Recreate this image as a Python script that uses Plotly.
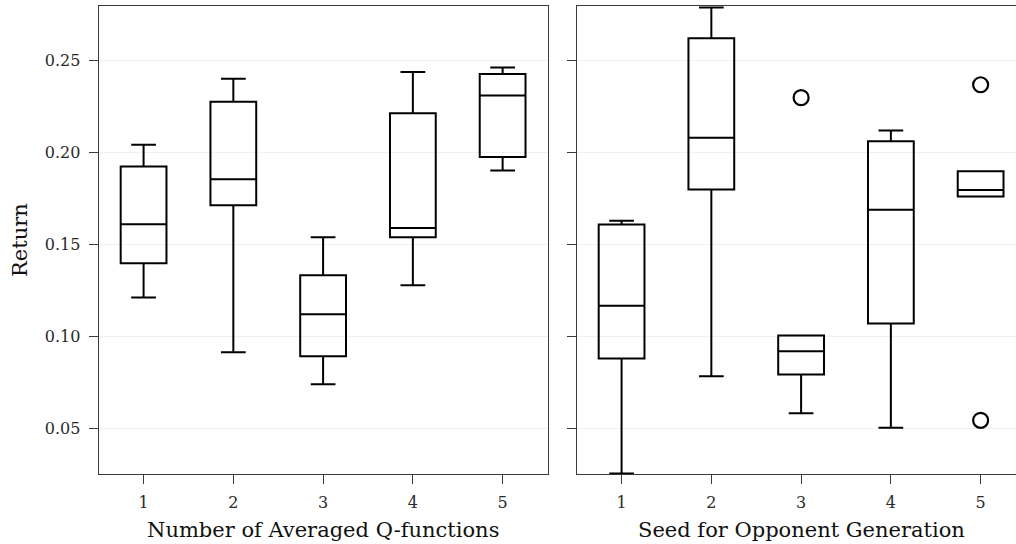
import plotly.graph_objects as go

# ---- data -------------------------------------------------------------
positions = [1, 2, 3, 4, 5]
tick_vals = [0.05, 0.10, 0.15, 0.20, 0.25]
tick_text = ["0.05", "0.10", "0.15", "0.20", "0.25"]

# Number of averaged Q-functions
avg_lower = [0.1211, 0.0914, 0.0741, 0.1278, 0.1900]
avg_q1 = [0.1398, 0.1712, 0.0893, 0.1538, 0.1974]
avg_median = [0.1609, 0.1853, 0.1120, 0.1589, 0.2308]
avg_q3 = [0.1923, 0.2274, 0.1332, 0.2212, 0.2424]
avg_upper = [0.2041, 0.2398, 0.1538, 0.2435, 0.2460]

# Seed for opponent generation
seed_lower = [0.0257, 0.0784, 0.0583, 0.0504, 0.1760]
seed_q1 = [0.0880, 0.1798, 0.0793, 0.1071, 0.1760]
seed_median = [0.1167, 0.2079, 0.0920, 0.1688, 0.1795]
seed_q3 = [0.1607, 0.2618, 0.1005, 0.2059, 0.1896]
seed_upper = [0.1628, 0.2785, 0.0999, 0.2118, 0.1896]
seed_outlier_x = [3, 5, 5]
seed_outlier_y = [0.2296, 0.2366, 0.0545]

x_titles = ["Number of Averaged Q-functions", "Seed for Opponent Generation"]
y_title = "Return"

# ---- styling ----------------------------------------------------------
W, H = 1016, 544
FONT = "DejaVu Serif"
INK = "#000000"
FRAME = "#3a3a3a"
GRID = "#f1f1f1"

left_px = (98.7, 547.5)
right_px0 = 576.7
top_px, bottom_px = 5.7, 474.3
unit_px = (left_px[1] - left_px[0]) / 5.0
y_range = [0.0252, 0.2795]

fig = go.Figure()


def add_boxes(lower, q1, med, q3, upper, xa, ya):
    fig.add_trace(go.Box(
        x=positions, lowerfence=lower, q1=q1, median=med, q3=q3,
        upperfence=upper, boxpoints=False, width=0.51, whiskerwidth=0.54,
        fillcolor="rgba(255,255,255,0)", line=dict(color=INK, width=2),
        xaxis=xa, yaxis=ya, showlegend=False, hoverinfo="skip",
    ))


add_boxes(avg_lower, avg_q1, avg_median, avg_q3, avg_upper, "x", "y")
add_boxes(seed_lower, seed_q1, seed_median, seed_q3, seed_upper, "x2", "y2")

fig.add_trace(go.Scatter(
    x=seed_outlier_x, y=seed_outlier_y, mode="markers",
    marker=dict(symbol="circle", size=15, color="white",
                line=dict(color=INK, width=2.2)),
    xaxis="x2", yaxis="y2", showlegend=False, hoverinfo="skip",
))

axis_common = dict(
    showline=True, linecolor=FRAME, linewidth=1.3,
    ticks="outside", ticklen=9, tickwidth=1.2, tickcolor=FRAME,
    tickfont=dict(family=FONT, size=16, color="#2a2a2a"),
    zeroline=False, automargin=False,
)

x_dom1 = [left_px[0] / W, left_px[1] / W]
x_dom2 = [right_px0 / W, 1.0]
y_dom = [1 - bottom_px / H, 1 - top_px / H]
x2_max = 0.5 + (W - right_px0) / unit_px

fig.update_layout(
    width=W, height=H,
    margin=dict(l=0, r=0, t=0, b=0),
    paper_bgcolor="white", plot_bgcolor="white",
    boxmode="overlay",
    xaxis=dict(domain=x_dom1, range=[0.5, 5.5], tickvals=positions,
               mirror=True, showgrid=False, anchor="y",
               ticklabelstandoff=4, **axis_common),
    yaxis=dict(domain=y_dom, range=y_range, tickvals=tick_vals,
               ticktext=tick_text, mirror=True, showgrid=True,
               gridcolor=GRID, gridwidth=1, anchor="x",
               ticklabelstandoff=5, **axis_common),
    xaxis2=dict(domain=x_dom2, range=[0.5, x2_max], tickvals=positions,
                mirror=True, showgrid=False, anchor="y2",
                ticklabelstandoff=4, **axis_common),
    yaxis2=dict(domain=y_dom, range=y_range, tickvals=tick_vals,
                showticklabels=False, mirror=False, showgrid=True,
                gridcolor=GRID, gridwidth=1, anchor="x2", **axis_common),
)

title_font = dict(family=FONT, size=21, color="#111111")
fig.add_annotation(text=x_titles[0], xref="x", x=3, yref="paper",
                   y=1 - 530 / H, yanchor="middle", showarrow=False,
                   font=title_font)
fig.add_annotation(text=x_titles[1], xref="x2", x=3, yref="paper",
                   y=1 - 530 / H, yanchor="middle", showarrow=False,
                   font=title_font)
fig.add_annotation(text=y_title, xref="paper", x=20 / W, yref="paper",
                   y=1 - 240 / H, textangle=-90, showarrow=False,
                   xanchor="center", yanchor="middle", font=title_font)

fig.write_html("out.html")
